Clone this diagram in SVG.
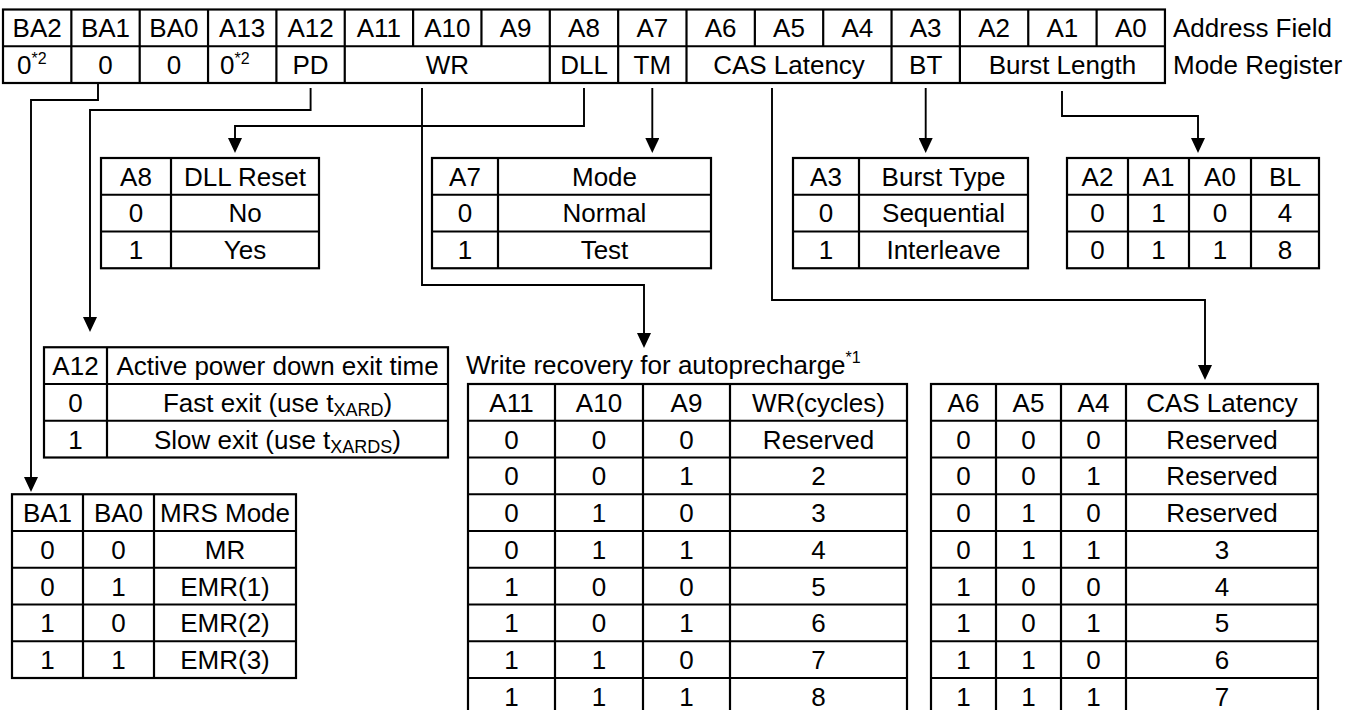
<svg xmlns="http://www.w3.org/2000/svg" width="1363" height="710" viewBox="0 0 1363 710">
<style>
.t{font-family:"Liberation Sans",Arial,Helvetica,sans-serif;font-size:26px;fill:#000;text-anchor:middle}
.s{text-anchor:start}
.sup{font-size:16px}
.sub{font-size:18px}
.g{fill:none;stroke:#000;stroke-width:2.2}
.c{fill:none;stroke:#000;stroke-width:1.9;marker-end:url(#arr)}
</style>
<defs>
<marker id="arr" markerWidth="15" markerHeight="14" refX="7" refY="7" orient="auto" markerUnits="userSpaceOnUse"><path d="M0,0 L15,7 L0,14 z" fill="#000"/></marker>
</defs>
<rect width="1363" height="710" fill="#fff"/>

<g id="header">
<rect class="g" x="3" y="9.5" width="1161.95" height="73.5"/>
<path class="g" d="M3,46.25H1164.95 M71.35,9.5V83 M139.7,9.5V83 M208.05,9.5V83 M276.4,9.5V83 M344.75,9.5V83 M413.1,9.5V46.25 M481.45,9.5V46.25 M549.8,9.5V83 M618.15,9.5V83 M686.5,9.5V83 M754.85,9.5V46.25 M823.2,9.5V46.25 M891.55,9.5V83 M959.9,9.5V83 M1028.25,9.5V46.25 M1096.6,9.5V46.25"/>
<text class="t" x="37.2" y="37.2">BA2</text>
<text class="t" x="105.5" y="37.2">BA1</text>
<text class="t" x="173.9" y="37.2">BA0</text>
<text class="t" x="242.2" y="37.2">A13</text>
<text class="t" x="310.6" y="37.2">A12</text>
<text class="t" x="378.9" y="37.2">A11</text>
<text class="t" x="447.3" y="37.2">A10</text>
<text class="t" x="515.6" y="37.2">A9</text>
<text class="t" x="584" y="37.2">A8</text>
<text class="t" x="652.3" y="37.2">A7</text>
<text class="t" x="720.7" y="37.2">A6</text>
<text class="t" x="789" y="37.2">A5</text>
<text class="t" x="857.4" y="37.2">A4</text>
<text class="t" x="925.7" y="37.2">A3</text>
<text class="t" x="994.1" y="37.2">A2</text>
<text class="t" x="1062.4" y="37.2">A1</text>
<text class="t" x="1130.8" y="37.2">A0</text>
<text class="t s" x="17" y="73.9">0<tspan class="sup" dy="-10">*2</tspan></text>
<text class="t" x="105.5" y="73.9">0</text>
<text class="t" x="173.9" y="73.9">0</text>
<text class="t s" x="220" y="73.9">0<tspan class="sup" dy="-10">*2</tspan></text>
<text class="t" x="310.6" y="73.9">PD</text>
<text class="t" x="447.3" y="73.9">WR</text>
<text class="t" x="584" y="73.9">DLL</text>
<text class="t" x="652.3" y="73.9">TM</text>
<text class="t" x="789" y="73.9">CAS Latency</text>
<text class="t" x="925.7" y="73.9">BT</text>
<text class="t" x="1062.4" y="73.9">Burst Length</text>
<text class="t s" x="1173" y="37.2">Address Field</text>
<text class="t s" x="1173" y="73.9">Mode Register</text>
</g>

<g id="connectors">
<path class="c" d="M98,83V100H31V484"/>
<path class="c" d="M310.6,88V110H90V324"/>
<path class="c" d="M422,88V285H644V340"/>
<path class="c" d="M584,88V126H235V145"/>
<path class="c" d="M652.3,88V145"/>
<path class="c" d="M772,88V300H1205V372"/>
<path class="c" d="M925.7,88V145"/>
<path class="c" d="M1062,91V116H1198V145"/>
</g>

<g id="dll-table">
<rect class="g" x="101" y="158" width="218" height="110.25"/>
<path class="g" d="M101,194.75H319 M101,231.5H319 M171,158V268.25"/>
<text class="t" x="136" y="185.7">A8</text><text class="t" x="245" y="185.7">DLL Reset</text>
<text class="t" x="136" y="222.4">0</text><text class="t" x="245" y="222.4">No</text>
<text class="t" x="136" y="259.2">1</text><text class="t" x="245" y="259.2">Yes</text>
</g>

<g id="tm-table">
<rect class="g" x="432" y="158" width="279" height="110.25"/>
<path class="g" d="M432,194.75H711 M432,231.5H711 M498,158V268.25"/>
<text class="t" x="465" y="185.7">A7</text><text class="t" x="604.5" y="185.7">Mode</text>
<text class="t" x="465" y="222.4">0</text><text class="t" x="604.5" y="222.4">Normal</text>
<text class="t" x="465" y="259.2">1</text><text class="t" x="604.5" y="259.2">Test</text>
</g>

<g id="bt-table">
<rect class="g" x="793" y="158" width="235" height="110.25"/>
<path class="g" d="M793,194.75H1028 M793,231.5H1028 M859,158V268.25"/>
<text class="t" x="826" y="185.7">A3</text><text class="t" x="943.5" y="185.7">Burst Type</text>
<text class="t" x="826" y="222.4">0</text><text class="t" x="943.5" y="222.4">Sequential</text>
<text class="t" x="826" y="259.2">1</text><text class="t" x="943.5" y="259.2">Interleave</text>
</g>

<g id="bl-table">
<rect class="g" x="1067" y="158" width="252" height="110.25"/>
<path class="g" d="M1067,194.75H1319 M1067,231.5H1319 M1128,158V268.25 M1189,158V268.25 M1251,158V268.25"/>
<text class="t" x="1097.5" y="185.7">A2</text><text class="t" x="1158.5" y="185.7">A1</text><text class="t" x="1220" y="185.7">A0</text><text class="t" x="1285" y="185.7">BL</text>
<text class="t" x="1097.5" y="222.4">0</text><text class="t" x="1158.5" y="222.4">1</text><text class="t" x="1220" y="222.4">0</text><text class="t" x="1285" y="222.4">4</text>
<text class="t" x="1097.5" y="259.2">0</text><text class="t" x="1158.5" y="259.2">1</text><text class="t" x="1220" y="259.2">1</text><text class="t" x="1285" y="259.2">8</text>
</g>

<g id="pd-table">
<rect class="g" x="44" y="347.25" width="404" height="110.25"/>
<path class="g" d="M44,384H448 M44,420.75H448 M107,347.25V457.5"/>
<text class="t" x="75.5" y="375">A12</text><text class="t" x="277.5" y="375">Active power down exit time</text>
<text class="t" x="75.5" y="411.7">0</text><text class="t" x="277.5" y="411.7">Fast exit (use t<tspan class="sub" dy="4">XARD</tspan><tspan dy="-4">)</tspan></text>
<text class="t" x="75.5" y="448.5">1</text><text class="t" x="277.5" y="448.5">Slow exit (use t<tspan class="sub" dy="4">XARDS</tspan><tspan dy="-4">)</tspan></text>
</g>

<g id="mrs-table">
<rect class="g" x="12" y="494.25" width="284" height="183.75"/>
<path class="g" d="M12,531H296 M12,567.75H296 M12,604.5H296 M12,641.25H296 M83,494.25V678 M154,494.25V678"/>
<text class="t" x="47.5" y="522">BA1</text><text class="t" x="118.5" y="522">BA0</text><text class="t" x="225" y="522">MRS Mode</text>
<text class="t" x="47.5" y="558.7">0</text><text class="t" x="118.5" y="558.7">0</text><text class="t" x="225" y="558.7">MR</text>
<text class="t" x="47.5" y="595.5">0</text><text class="t" x="118.5" y="595.5">1</text><text class="t" x="225" y="595.5">EMR(1)</text>
<text class="t" x="47.5" y="632.2">1</text><text class="t" x="118.5" y="632.2">0</text><text class="t" x="225" y="632.2">EMR(2)</text>
<text class="t" x="47.5" y="669">1</text><text class="t" x="118.5" y="669">1</text><text class="t" x="225" y="669">EMR(3)</text>
</g>

<g id="wr-table">
<text class="t s" x="466" y="374">Write recovery for autoprecharge<tspan class="sup" dy="-11">*1</tspan></text>
<rect class="g" x="468" y="384" width="439" height="330.75"/>
<path class="g" d="M468,420.75H907 M468,457.5H907 M468,494.25H907 M468,531H907 M468,567.75H907 M468,604.5H907 M468,641.25H907 M468,678H907 M555,384V714.75 M643,384V714.75 M730,384V714.75"/>
<text class="t" x="511.5" y="411.7">A11</text><text class="t" x="599" y="411.7">A10</text><text class="t" x="686.5" y="411.7">A9</text><text class="t" x="818.5" y="411.7">WR(cycles)</text>
<text class="t" x="511.5" y="448.5">0</text><text class="t" x="599" y="448.5">0</text><text class="t" x="686.5" y="448.5">0</text><text class="t" x="818.5" y="448.5">Reserved</text>
<text class="t" x="511.5" y="485.2">0</text><text class="t" x="599" y="485.2">0</text><text class="t" x="686.5" y="485.2">1</text><text class="t" x="818.5" y="485.2">2</text>
<text class="t" x="511.5" y="522">0</text><text class="t" x="599" y="522">1</text><text class="t" x="686.5" y="522">0</text><text class="t" x="818.5" y="522">3</text>
<text class="t" x="511.5" y="558.7">0</text><text class="t" x="599" y="558.7">1</text><text class="t" x="686.5" y="558.7">1</text><text class="t" x="818.5" y="558.7">4</text>
<text class="t" x="511.5" y="595.5">1</text><text class="t" x="599" y="595.5">0</text><text class="t" x="686.5" y="595.5">0</text><text class="t" x="818.5" y="595.5">5</text>
<text class="t" x="511.5" y="632.2">1</text><text class="t" x="599" y="632.2">0</text><text class="t" x="686.5" y="632.2">1</text><text class="t" x="818.5" y="632.2">6</text>
<text class="t" x="511.5" y="669">1</text><text class="t" x="599" y="669">1</text><text class="t" x="686.5" y="669">0</text><text class="t" x="818.5" y="669">7</text>
<text class="t" x="511.5" y="705.7">1</text><text class="t" x="599" y="705.7">1</text><text class="t" x="686.5" y="705.7">1</text><text class="t" x="818.5" y="705.7">8</text>
</g>

<g id="cas-table">
<rect class="g" x="931" y="384" width="387" height="330.75"/>
<path class="g" d="M931,420.75H1318 M931,457.5H1318 M931,494.25H1318 M931,531H1318 M931,567.75H1318 M931,604.5H1318 M931,641.25H1318 M931,678H1318 M996,384V714.75 M1061,384V714.75 M1126,384V714.75"/>
<text class="t" x="963.5" y="411.7">A6</text><text class="t" x="1028.5" y="411.7">A5</text><text class="t" x="1093.5" y="411.7">A4</text><text class="t" x="1222" y="411.7">CAS Latency</text>
<text class="t" x="963.5" y="448.5">0</text><text class="t" x="1028.5" y="448.5">0</text><text class="t" x="1093.5" y="448.5">0</text><text class="t" x="1222" y="448.5">Reserved</text>
<text class="t" x="963.5" y="485.2">0</text><text class="t" x="1028.5" y="485.2">0</text><text class="t" x="1093.5" y="485.2">1</text><text class="t" x="1222" y="485.2">Reserved</text>
<text class="t" x="963.5" y="522">0</text><text class="t" x="1028.5" y="522">1</text><text class="t" x="1093.5" y="522">0</text><text class="t" x="1222" y="522">Reserved</text>
<text class="t" x="963.5" y="558.7">0</text><text class="t" x="1028.5" y="558.7">1</text><text class="t" x="1093.5" y="558.7">1</text><text class="t" x="1222" y="558.7">3</text>
<text class="t" x="963.5" y="595.5">1</text><text class="t" x="1028.5" y="595.5">0</text><text class="t" x="1093.5" y="595.5">0</text><text class="t" x="1222" y="595.5">4</text>
<text class="t" x="963.5" y="632.2">1</text><text class="t" x="1028.5" y="632.2">0</text><text class="t" x="1093.5" y="632.2">1</text><text class="t" x="1222" y="632.2">5</text>
<text class="t" x="963.5" y="669">1</text><text class="t" x="1028.5" y="669">1</text><text class="t" x="1093.5" y="669">0</text><text class="t" x="1222" y="669">6</text>
<text class="t" x="963.5" y="705.7">1</text><text class="t" x="1028.5" y="705.7">1</text><text class="t" x="1093.5" y="705.7">1</text><text class="t" x="1222" y="705.7">7</text>
</g>
</svg>
